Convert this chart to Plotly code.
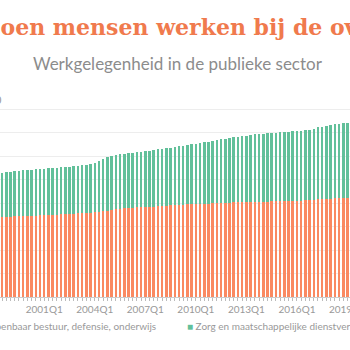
import plotly.graph_objects as go

years = list(range(1996, 2021))
quarters = [f"{y}Q{q}" for y in years for q in range(1, 5)]

openbaar = [840, 842, 843, 845, 846, 848, 849, 851, 852,
            853, 855, 856, 858, 860, 862, 864, 866, 867, 869, 871, 872,
            874, 876, 878, 880, 882, 885, 888, 891, 894, 897, 900, 903,
            906, 912, 920, 928, 934, 939, 944, 948, 952, 955, 958, 961,
            963, 965, 968, 971, 974, 977, 980, 982, 985, 987, 989, 991,
            993, 995, 997, 999, 1000, 1002, 1004, 1006, 1008, 1009, 1011, 1012,
            1013, 1014, 1016, 1017, 1018, 1019, 1020, 1021, 1022, 1023, 1025, 1026,
            1028, 1030, 1033, 1036, 1040, 1043, 1046, 1049, 1052, 1054, 1057, 1059,
            1062, 1065, 1068, 1070, 1073, 1076, 1079]

zorg = [450, 452, 454, 456, 458, 459, 462, 463, 465,
        467, 470, 474, 476, 479, 482, 485, 488, 490, 492, 494, 497,
        498, 500, 502, 504, 505, 506, 507, 509, 511, 515, 520, 527,
        539, 558, 570, 580, 582, 583, 584, 585, 586, 588, 591, 594,
        598, 602, 605, 609, 613, 617, 621, 626, 630, 635, 640, 645,
        650, 655, 661, 667, 674, 680, 686, 691, 697, 702, 706, 710,
        714, 719, 722, 726, 729, 731, 734, 736, 738, 740, 741, 744,
        747, 750, 753, 757, 770, 775, 779, 783, 788, 793, 796, 801,
        804, 807, 810, 814, 817, 820, 823]

labelled = [f"{y}Q1" for y in range(1998, 2021, 3)]
ticktext = [q if q in labelled else "" for q in quarters]

ORANGE = "#fa8961"
GREEN = "#62c09a"
GREY = "#999999"

fig = go.Figure()
fig.add_trace(go.Bar(x=quarters, y=openbaar, name="Openbaar bestuur, defensie, onderwijs",
                     marker=dict(color=ORANGE, line=dict(width=0))))
fig.add_trace(go.Bar(x=quarters, y=zorg, name="Zorg en maatschappelijke dienstverlening",
                     marker=dict(color=GREEN, line=dict(width=0))))

fig.update_layout(
    width=350, height=350,
    margin=dict(l=0, r=0, t=86, b=53, autoexpand=False),
    barmode="stack", bargap=0.4,
    plot_bgcolor="white", paper_bgcolor="white",
    showlegend=False,
    font=dict(family="Lato", color=GREY, size=10),
    xaxis=dict(
        type="category", range=[9.5, 92.6], automargin=False,
        tickmode="array", tickvals=quarters, ticktext=ticktext,
        ticks="outside", ticklen=3, tickcolor="#bbbbbb", tickwidth=1,
        showline=True, linecolor="#cccccc", linewidth=1,
        showgrid=False, tickangle=0,
        tickfont=dict(family="Lato", size=10, color=GREY),
    ),
    yaxis=dict(
        range=[0, 2250], dtick=250, showticklabels=False, automargin=False,
        showgrid=True, gridcolor="#ededed", gridwidth=1, zeroline=False,
        fixedrange=True,
    ),
    annotations=[
        dict(text="<b>Ruim 2 miljoen mensen werken bij de overheid</b>",
             xref="paper", yref="paper", x=0, y=1.28, xanchor="left", yanchor="middle",
             xshift=-146, showarrow=False,
             font=dict(family="DejaVu Serif", size=22, color="#f07a4d")),
        dict(text="Werkgelegenheid in de publieke sector",
             xref="paper", yref="paper", x=178 / 350, y=1.109, xanchor="center", yanchor="middle",
             showarrow=False, font=dict(family="Lato", size=17, color="#8c8c8c")),
        dict(text="x 1.000",
             xref="paper", yref="paper", x=4 / 350, y=0.934, xanchor="right", yanchor="middle",
             showarrow=False, font=dict(family="Lato", size=11, color=GREY)),
        dict(text=f"<span style='color:{ORANGE}'>■</span> Openbaar bestuur, defensie, onderwijs",
             xref="paper", yref="paper", x=158 / 350, y=-0.137, xanchor="right", yanchor="middle",
             showarrow=False, font=dict(family="Lato", size=10, color=GREY)),
        dict(text=f"<span style='color:{GREEN}'>■</span> Zorg en maatschappelijke dienstverlening",
             xref="paper", yref="paper", x=185 / 350, y=-0.137, xanchor="left", yanchor="middle",
             showarrow=False, font=dict(family="Lato", size=10, color=GREY)),
    ],
)

fig.write_html("out.html")
